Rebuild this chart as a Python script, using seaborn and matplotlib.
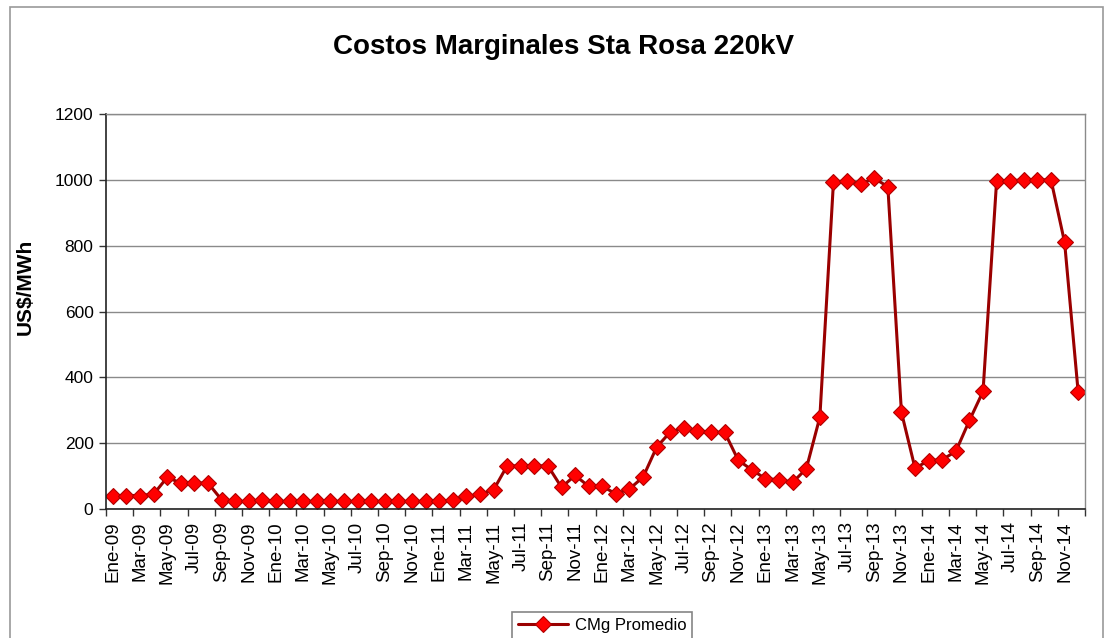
import matplotlib
matplotlib.use("Agg")
import matplotlib.pyplot as plt
import seaborn as sns
import pandas as pd
from matplotlib.patches import Rectangle

# ---- data ----
month_names = ["Ene", "Feb", "Mar", "Abr", "May", "Jun", "Jul", "Ago", "Sep", "Oct", "Nov", "Dic"]
years = ["09", "10", "11", "12", "13", "14"]
categories = [f"{m}-{y}" for y in years for m in month_names]

cmg_promedio = [
    41, 41, 41, 45, 96, 79, 79, 79, 28, 23, 23, 28,          # 2009
    23, 23, 23, 23, 23, 23, 23, 23, 23, 23, 23, 23,          # 2010
    23, 28, 38, 45, 58, 131, 131, 131, 131, 66, 102, 69,     # 2011
    69, 46, 61, 97, 188, 234, 246, 238, 233, 233, 148, 119,  # 2012
    92, 89, 81, 122, 279, 993, 997, 987, 1005, 979, 294, 124,  # 2013
    147, 150, 175, 269, 357, 997, 997, 1000, 1000, 1000, 810, 354,  # 2014
]
series_label = "CMg Promedio"
title = "Costos Marginales Sta Rosa 220kV"
y_label = "US$/MWh"
y_ticks = [0, 200, 400, 600, 800, 1000, 1200]

df = pd.DataFrame({"pos": range(len(categories)), "mes": categories, "valor": cmg_promedio})

# ---- style ----
sns.set_theme(style="white", rc={"text.color": "black", "axes.labelcolor": "black",
                                 "xtick.color": "black", "ytick.color": "black"})
plt.rcParams["font.family"] = ["Liberation Sans", "DejaVu Sans"]

fig = plt.figure(figsize=(11.11, 6.38), dpi=100)
ax = fig.add_axes([106 / 1111, 1 - 509 / 638, (1085 - 106) / 1111, (509 - 114) / 638])

sns.lineplot(
    data=df, x="pos", y="valor", ax=ax,
    color="#9a0000", linewidth=2.2,
    marker="D", markersize=8.5,
    markerfacecolor="#ff0000", markeredgecolor="#b00000", markeredgewidth=0.8,
    label=series_label, legend=False,
)

ax.set_xlim(-0.5, len(categories) - 0.5)
ax.set_ylim(0, 1200)
ax.set_yticks(y_ticks)
ax.set_yticklabels([str(v) for v in y_ticks], fontsize=12.5)

# labels every other month at category centres, tick marks at category boundaries
label_pos = list(range(0, len(categories), 2))
ax.set_xticks(label_pos)
ax.set_xticklabels([categories[i] for i in label_pos], rotation=90, fontsize=13.5)
ax.set_xticks([p - 0.5 for p in range(0, len(categories) + 1, 2)], minor=True)
ax.tick_params(axis="x", which="major", length=0, pad=9, labelcolor="black")
ax.tick_params(axis="x", which="minor", length=5, width=1, color="#333333", direction="out", bottom=True)
ax.tick_params(axis="y", which="major", length=5, width=1, color="#333333", direction="out", left=True, pad=4,
               labelcolor="black")

ax.set_xlabel("")
ax.set_ylabel(y_label, fontsize=15, fontweight="bold", color="black")
ax.yaxis.set_label_coords((35 - 106) / 979, (509 - 287) / 395)

ax.grid(axis="y", color="#8a8a8a", linewidth=1)
ax.grid(axis="x", visible=False)
ax.set_axisbelow(True)

for side in ["left", "bottom"]:
    ax.spines[side].set_color("#222222")
    ax.spines[side].set_linewidth(1.2)
for side in ["top", "right"]:
    ax.spines[side].set_color("#8a8a8a")
    ax.spines[side].set_linewidth(1)

fig.text(0.507, 1 - 47 / 638, title, ha="center", va="center", fontsize=20, fontweight="bold", color="black")

handles, labels = ax.get_legend_handles_labels()
leg = fig.legend(handles, labels, loc="upper center", bbox_to_anchor=(602 / 1111, 1 - 604 / 638),
                 fontsize=12, frameon=True, fancybox=False, edgecolor="#666666",
                 handlelength=3.0, borderpad=0.35, handletextpad=0.4)
leg.get_frame().set_linewidth(1.2)
for t in leg.get_texts():
    t.set_color("black")

# outer chart border
fig.patches.append(Rectangle((10 / 1111, -0.01), (1103 - 10) / 1111, 1 - 7 / 638 + 0.01,
                             transform=fig.transFigure, fill=False, edgecolor="#999999", linewidth=1.2))

fig.savefig("out.png", dpi=100)
